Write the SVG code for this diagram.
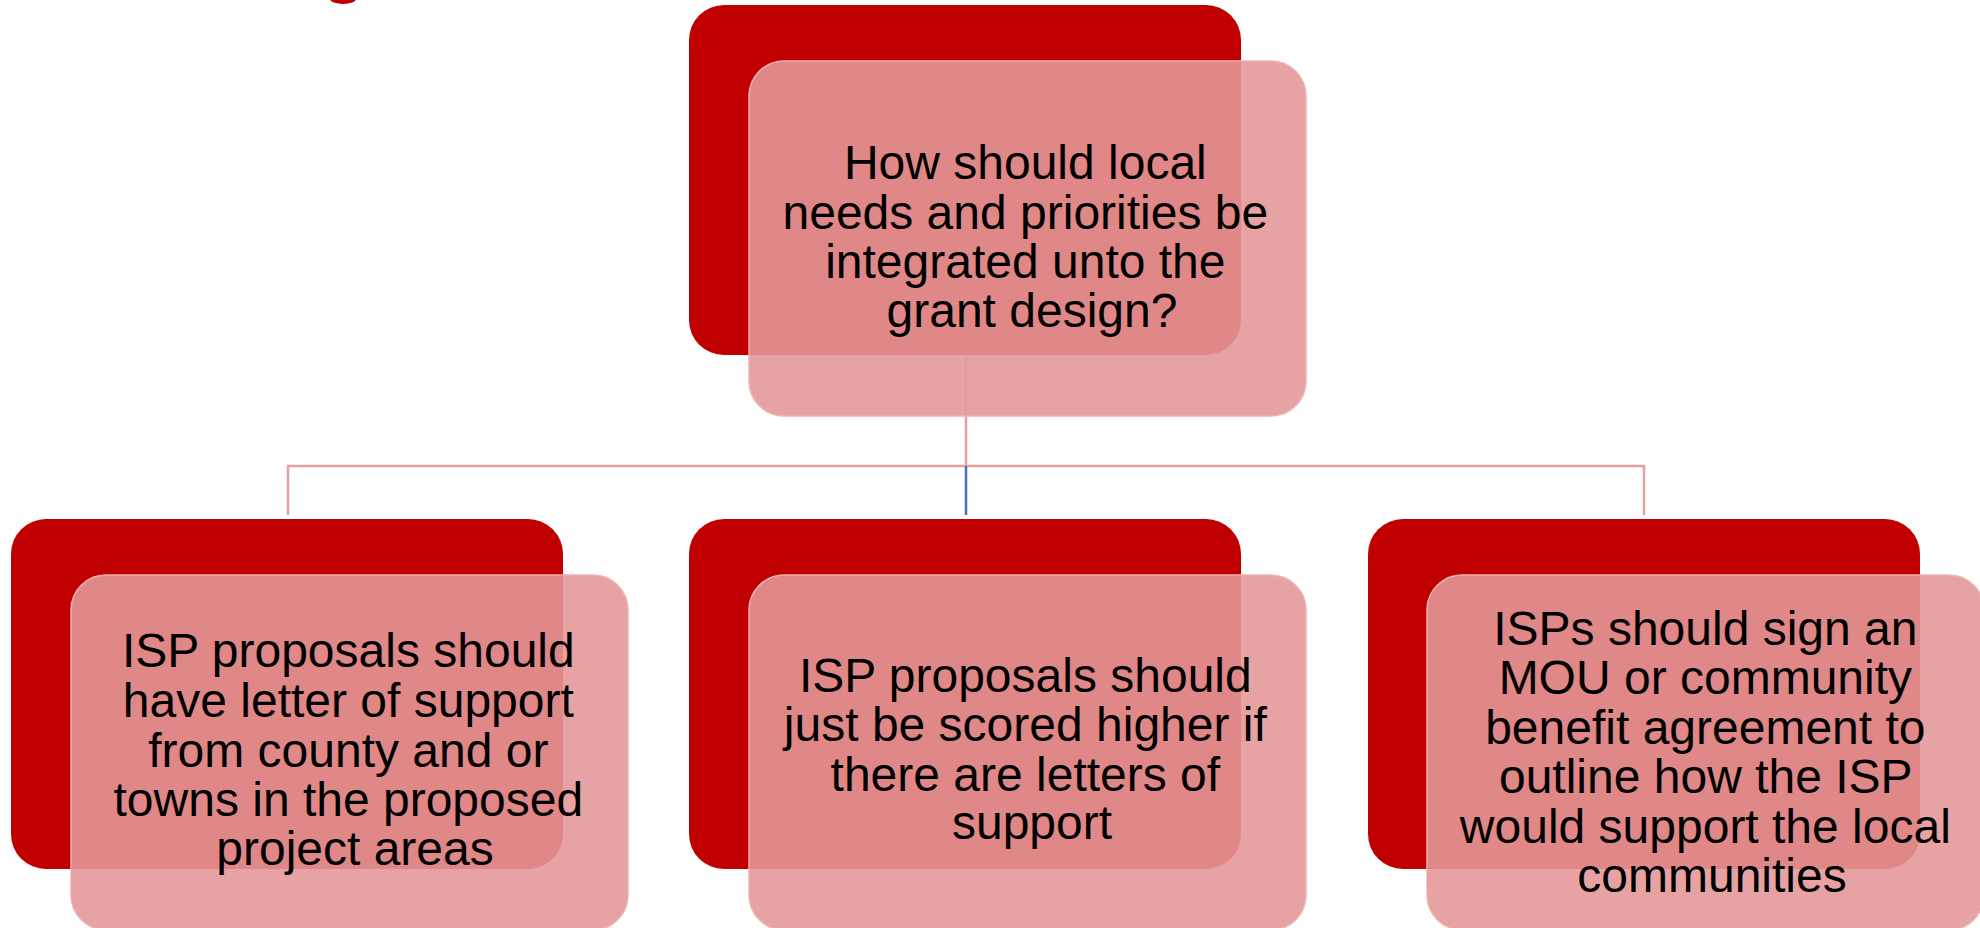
<svg xmlns="http://www.w3.org/2000/svg" width="1980" height="928" viewBox="0 0 1980 928">
  <defs>
    <style>
      .back { fill: #C00000; }
      .front { fill: rgb(228,152,152); fill-opacity: 0.89; stroke: #EDB3B3; stroke-width: 1.5; }
      .lbl { font-family: "Liberation Sans", Arial, sans-serif; font-size: 48px; fill: #000000; text-anchor: middle; }
      .conn { fill: none; stroke: #E6A0A0; stroke-width: 2.5; }
      .connb { fill: none; stroke: #4472C4; stroke-width: 2.5; }
    </style>
  </defs>
  <rect width="1980" height="928" fill="#FFFFFF"/>
  <ellipse cx="343" cy="-1" rx="13" ry="5" fill="#C00000"/>

  <g id="connectors">
    <path class="conn" d="M966,356 V466 M288,515 V466 H1644 V515"/>
    <path class="connb" d="M966,466 V515"/>
  </g>

  <g id="node-top">
    <rect class="back" x="689" y="5" width="552" height="350" rx="35"/>
    <rect class="front" x="749" y="61" width="557" height="355" rx="35"/>
    <text class="lbl">
      <tspan x="1032" y="179">How should local</tspan>
      <tspan x="1032" y="229">needs and priorities be</tspan>
      <tspan x="1032" y="278">integrated unto the</tspan>
      <tspan x="1032" y="327">grant design?</tspan>
    </text>
  </g>

  <g id="node-left">
    <rect class="back" x="11" y="519" width="552" height="350" rx="35"/>
    <rect class="front" x="71" y="575" width="557" height="355" rx="35"/>
    <text class="lbl">
      <tspan x="355" y="667">ISP proposals should</tspan>
      <tspan x="355" y="717">have letter of support</tspan>
      <tspan x="355" y="767">from county and or</tspan>
      <tspan x="355" y="816">towns in the proposed</tspan>
      <tspan x="355" y="865">project areas</tspan>
    </text>
  </g>

  <g id="node-middle">
    <rect class="back" x="689" y="519" width="552" height="350" rx="35"/>
    <rect class="front" x="749" y="575" width="557" height="355" rx="35"/>
    <text class="lbl">
      <tspan x="1032" y="692">ISP proposals should</tspan>
      <tspan x="1032" y="741">just be scored higher if</tspan>
      <tspan x="1032" y="791">there are letters of</tspan>
      <tspan x="1032" y="839">support</tspan>
    </text>
  </g>

  <g id="node-right">
    <rect class="back" x="1368" y="519" width="552" height="350" rx="35"/>
    <rect class="front" x="1427" y="575" width="557" height="355" rx="35"/>
    <text class="lbl">
      <tspan x="1712" y="645">ISPs should sign an</tspan>
      <tspan x="1712" y="694">MOU or community</tspan>
      <tspan x="1712" y="744">benefit agreement to</tspan>
      <tspan x="1712" y="793">outline how the ISP</tspan>
      <tspan x="1712" y="843">would support the local</tspan>
      <tspan x="1712" y="892">communities</tspan>
    </text>
  </g>
</svg>
